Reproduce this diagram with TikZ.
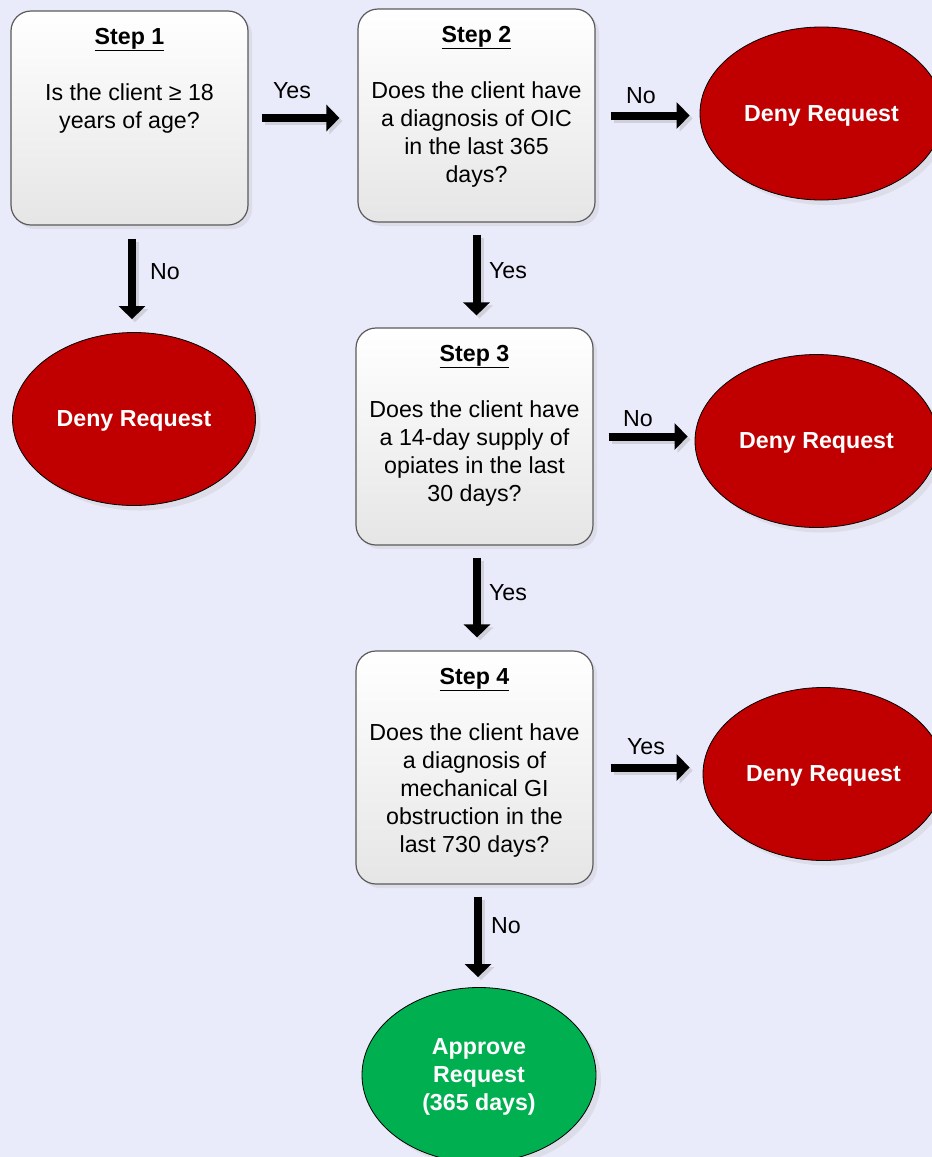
\documentclass[tikz,border=0pt]{standalone}
\usepackage{fontspec}
\setmainfont{Liberation Sans}
\usetikzlibrary{arrows.meta,shadows,shapes.geometric}
\definecolor{bg}{RGB}{234,235,250}
\definecolor{denyred}{RGB}{192,0,0}
\definecolor{okgreen}{RGB}{0,176,80}
\definecolor{boxedge}{RGB}{90,90,90}
\definecolor{shadowc}{RGB}{208,208,218}
\begin{document}
\begin{tikzpicture}[x=1pt,y=-1pt,
  every node/.style={font=\fontsize{23.2}{28}\selectfont},
  stepbox/.style={draw=boxedge, line width=1.2pt, rounded corners=20pt,
    top color=white, bottom color=black!10, minimum width=237pt, inner sep=0pt,
    drop shadow={shadow xshift=4pt, shadow yshift=-4pt, fill=shadowc}},
  steptext/.style={anchor=base, inner sep=0pt},
  endnode/.style={ellipse, draw=black, line width=0.8pt, text=white,
    font=\fontsize{23.2}{28}\selectfont\bfseries, align=center, inner sep=0pt,
    text depth=0pt, minimum height=173pt,
    drop shadow={shadow xshift=5pt, shadow yshift=-5pt, fill=shadowc}},
  deny/.style={endnode, fill=denyred, minimum width=243pt},
  approve/.style={endnode, fill=okgreen, minimum width=234pt, minimum height=175pt},
  flow/.style={line width=8pt, -{Triangle[width=26pt,length=13pt]}},
  flowshadow/.style={flow, draw=shadowc},
  lbl/.style={inner sep=0pt}
]
\fill[bg] (0,0) rectangle (932,1157);
\useasboundingbox (0,0) rectangle (932,1157);

% step boxes
\node[stepbox, minimum height=214pt] (s1) at (129.5,118) {};
\node[steptext] (t1) at (s1.north) [yshift=-34pt] {\parbox[t]{230pt}{\centering
  \textbf{\underline{Step 1}}\\[28pt]Is the client ≥ 18\\years of age?}};

\node[stepbox, minimum height=213pt] (s2) at (476.5,115.5) {};
\node[steptext] (t2) at (s2.north) [yshift=-34pt] {\parbox[t]{230pt}{\centering
  \textbf{\underline{Step 2}}\\[28pt]Does the client have\\a diagnosis of OIC\\in the last 365\\days?}};

\node[stepbox, minimum height=217pt] (s3) at (474.5,436.5) {};
\node[steptext] (t3) at (s3.north) [yshift=-34pt] {\parbox[t]{230pt}{\centering
  \textbf{\underline{Step 3}}\\[28pt]Does the client have\\a 14-day supply of\\opiates in the last\\30 days?}};

\node[stepbox, minimum height=233pt] (s4) at (474.5,767.5) {};
\node[steptext] (t4) at (s4.north) [yshift=-34pt] {\parbox[t]{230pt}{\centering
  \textbf{\underline{Step 4}}\\[28pt]Does the client have\\a diagnosis of\\mechanical GI\\obstruction in the\\last 730 days?}};

% outcomes
\node[deny] (e1) at (134,419) {Deny Request};
\node[deny] (e2) at (821.5,113.5) {Deny Request};
\node[deny] (e3) at (816.5,441) {Deny Request};
\node[deny, minimum width=241pt] (e4) at (823.5,774) {Deny Request};
\node[approve] (ap) at (479,1075) {Approve\\Request\\(365 days)};

% connector shadows
\begin{scope}[transform canvas={xshift=3pt,yshift=-3pt}]
\draw[flowshadow, shorten <=13pt, shorten >=18pt] (s1.east) -- (s1.east -| s2.west);
\draw[flowshadow, shorten <=15pt, shorten >=10pt] (s2.east) -- (s2.east -| e2.west);
\draw[flowshadow, shorten <=15pt, shorten >=7pt] (s3.east) -- (s3.east -| e3.west);
\draw[flowshadow, shorten <=17pt, shorten >=13pt] (s4.east) -- (s4.east -| e4.west);
\draw[flowshadow, shorten <=13pt, shorten >=13pt] ([xshift=2.5pt]s1.south) -- ([xshift=2.5pt]s1.south |- e1.north);
\draw[flowshadow, shorten <=12pt, shorten >=12pt] (s2.south) -- (s2.south |- s3.north);
\draw[flowshadow, shorten <=12pt, shorten >=13pt] ([xshift=2.5pt]s3.south) -- ([xshift=2.5pt]s3.south |- s4.north);
\draw[flowshadow, shorten <=12pt, shorten >=10pt] ([xshift=3.5pt]s4.south) -- ([xshift=3.5pt]s4.south |- ap.north);
\end{scope}

% connectors
\draw[flow, shorten <=13pt, shorten >=18pt] (s1.east) -- (s1.east -| s2.west);
\draw[flow, shorten <=15pt, shorten >=10pt] (s2.east) -- (s2.east -| e2.west);
\draw[flow, shorten <=15pt, shorten >=7pt] (s3.east) -- (s3.east -| e3.west);
\draw[flow, shorten <=17pt, shorten >=13pt] (s4.east) -- (s4.east -| e4.west);
\draw[flow, shorten <=13pt, shorten >=13pt] ([xshift=2.5pt]s1.south) -- ([xshift=2.5pt]s1.south |- e1.north);
\draw[flow, shorten <=12pt, shorten >=12pt] (s2.south) -- (s2.south |- s3.north);
\draw[flow, shorten <=12pt, shorten >=13pt] ([xshift=2.5pt]s3.south) -- ([xshift=2.5pt]s3.south |- s4.north);
\draw[flow, shorten <=12pt, shorten >=10pt] ([xshift=3.5pt]s4.south) -- ([xshift=3.5pt]s4.south |- ap.north);

% labels
\node[lbl] (l1) at (292,91) {Yes};
\node[lbl] (l2) at (641,96) {No};
\node[lbl] (l3) at (165,272) {No};
\node[lbl] (l4) at (508,271) {Yes};
\node[lbl] (l5) at (638,419) {No};
\node[lbl] (l6) at (508,593) {Yes};
\node[lbl] (l7) at (646,747) {Yes};
\node[lbl] (l8) at (506,926) {No};
\end{tikzpicture}
\end{document}
